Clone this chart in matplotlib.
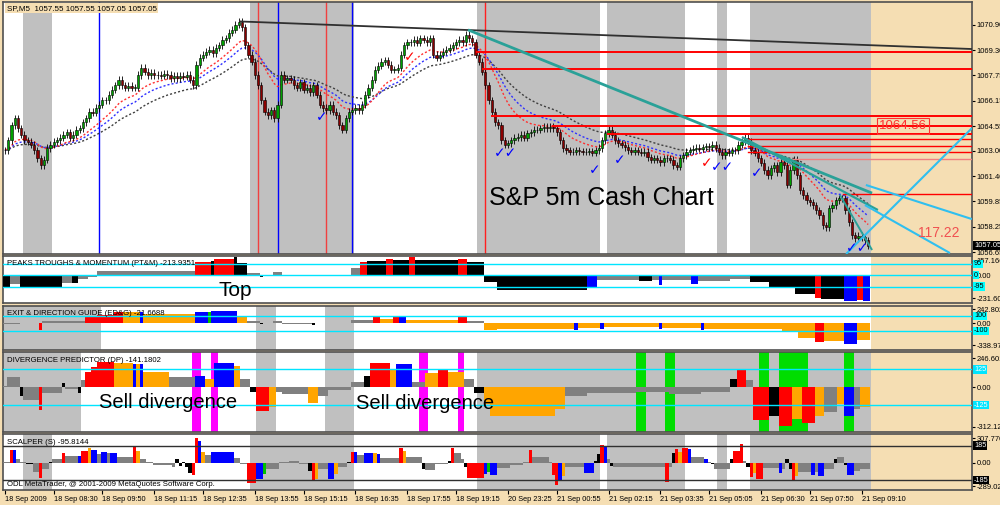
import numpy as np
import pandas as pd
import matplotlib
matplotlib.use('Agg')
import matplotlib.pyplot as plt
import matplotlib.transforms as mtransforms

plt.rcParams['font.family'] = ['Liberation Sans', 'DejaVu Sans']

# ---------------- data ----------------
closes = [
    1063.05, 1063.68, 1064.62, 1065.06, 1064.43,
    1064.00, 1063.68, 1063.56, 1063.37,
    1063.05, 1062.55, 1062.11,
    1062.43, 1063.18, 1063.37,
    1063.56, 1063.68, 1063.81,
    1064.00, 1064.18, 1063.81,
    1064.00, 1064.31, 1064.43,
    1064.81, 1065.06, 1065.44,
    1065.38, 1065.69, 1065.88, 1066.19,
    1066.19, 1066.51, 1066.82,
    1067.13, 1067.45, 1067.13,
    1066.95, 1067.07, 1066.95,
    1066.95, 1067.76, 1068.20,
    1067.95, 1067.76, 1067.89,
    1067.76, 1067.76, 1067.70,
    1067.83, 1067.76, 1067.57,
    1067.70, 1067.57, 1067.70,
    1067.64, 1067.76, 1067.45,
    1067.13, 1068.39, 1068.83, 1069.02,
    1069.21, 1069.33, 1069.14,
    1069.46, 1069.64, 1069.96,
    1070.08, 1070.40, 1070.59,
    1070.90, 1071.09, 1070.77,
    1069.64, 1069.02, 1068.58,
    1067.76, 1067.13, 1066.19,
    1065.44, 1065.25, 1065.56,
    1065.06, 1065.88, 1067.76, 1067.45,
    1067.57, 1067.45, 1067.13,
    1066.95, 1067.32, 1066.82,
    1066.95, 1066.69, 1067.13,
    1066.51, 1065.88, 1065.69,
    1065.56, 1065.88, 1065.44,
    1065.25, 1064.62, 1064.31,
    1065.06, 1065.44, 1065.56,
    1065.69, 1065.56, 1065.88,
    1066.51, 1066.95, 1067.45,
    1068.08, 1068.33, 1068.58,
    1068.70, 1068.39, 1068.08,
    1068.08, 1068.20, 1069.02, 1069.64,
    1069.83, 1069.83, 1069.96,
    1069.77, 1070.08, 1069.96,
    1069.83, 1070.08, 1069.02,
    1068.83, 1069.02, 1069.21,
    1069.33, 1069.46, 1069.64,
    1069.83, 1069.96, 1069.83,
    1070.27, 1070.08, 1069.83,
    1069.02, 1068.58, 1067.95,
    1067.13, 1066.19, 1065.44,
    1064.81, 1064.62, 1063.68, 1063.37,
    1063.49, 1063.68, 1063.81,
    1063.87, 1064.00, 1063.81,
    1064.12, 1064.18, 1064.31,
    1064.31, 1064.43, 1064.50,
    1064.43, 1064.50, 1064.43,
    1064.18, 1063.68, 1063.18,
    1063.05, 1062.93, 1062.93,
    1063.05, 1062.99, 1062.93,
    1062.93, 1062.99, 1062.87,
    1063.05, 1063.18, 1063.68, 1064.12,
    1064.31, 1064.00, 1063.68,
    1063.49, 1063.37, 1063.24,
    1063.05, 1062.93, 1063.05,
    1062.93, 1062.87, 1062.93,
    1062.61, 1062.43, 1062.55,
    1062.43, 1062.30, 1062.55,
    1062.55, 1062.43, 1062.11,
    1061.99, 1062.55, 1062.74,
    1062.93, 1063.05, 1063.12,
    1063.18, 1063.12, 1063.24,
    1063.30, 1063.24, 1063.37,
    1063.18, 1062.93, 1062.74,
    1062.93, 1062.87, 1063.05,
    1063.05, 1063.37, 1063.56,
    1063.81, 1063.56, 1063.05,
    1062.87, 1062.55, 1062.24,
    1061.80, 1061.48, 1061.92,
    1062.11, 1061.67, 1062.30,
    1062.11, 1060.86, 1061.80,
    1062.43, 1061.48, 1060.54,
    1060.23, 1059.91, 1059.79,
    1059.60, 1059.29, 1058.97,
    1058.34, 1058.22, 1059.41,
    1059.60, 1059.91, 1060.04,
    1060.04, 1059.29, 1058.53,
    1057.72, 1057.53, 1057.66,
    1057.59, 1057.40, 1057.05,
]

price_ticks = [1070.90, 1069.30, 1067.75, 1066.15, 1064.55, 1063.00,
               1061.40, 1059.85, 1058.25, 1056.65]

xtick_bars = [0, 15, 30, 46, 61, 77, 92, 108, 124, 139, 155, 170, 186, 202,
              217, 233, 248, 264]
xtick_labels = ['18 Sep 2009', '18 Sep 08:30', '18 Sep 09:50', '18 Sep 11:15',
                '18 Sep 12:35', '18 Sep 13:55', '18 Sep 15:15', '18 Sep 16:35',
                '18 Sep 17:55', '18 Sep 19:15', '20 Sep 23:25', '21 Sep 00:55',
                '21 Sep 02:15', '21 Sep 03:35', '21 Sep 05:05', '21 Sep 06:30',
                '21 Sep 07:50', '21 Sep 09:10']

# session shading (bar ranges)
main_bands = [(5.5, 14.5), (75.5, 107.5), (145.5, 183.5), (185.5, 209.5),
              (219.5, 222.5), (229.5, 266.9)]
edg_bands = [(-1, 29.5), (77.5, 83.5), (98.5, 107.5)]
dp_bands = [(-1, 23.5), (77.5, 83.5), (98.5, 107.5), (145.5, 266.9)]

# vertical markers on price chart (bar, colour)
vlines_bars = [29, 78, 84, 99, 107, 148]
vlines_cols = ['#0000FF', '#F04040', '#0000FF', '#F04040', '#0000FF', '#FF2020']

# horizontal resistance lines (start bar, price)
hlines_start = [145.5, 147.3, 150.1, 168.9, 185.8, 229.0, 229.0, 229.0, 241.9, 258.3]
hlines_price = [1069.21, 1068.14, 1065.19, 1064.56, 1064.06, 1063.74, 1063.30,
                1062.93, 1062.49, 1060.29]

# trend lines ((bar0, price0), (bar1, price1), colour, width)
trend_lines = [
    ((72.4, 1071.12), (298.0, 1069.39), '#303030', 1.3),
    ((142.7, 1070.59), (267.2, 1060.35), '#2AA198', 2.0),
    ((227.1, 1063.87), (269.0, 1059.29), '#2AA198', 1.6),
    ((257.3, 1060.23), (267.2, 1056.78), '#2AA198', 1.4),
    ((265.3, 1060.86), (298.0, 1058.72), '#30BFEF', 1.5),
    ((265.0, 1059.60), (291.2, 1056.59), '#30BFEF', 1.5),
    ((259.2, 1056.53), (298.0, 1064.43), '#30BFEF', 1.5),
]

# check marks (bar, price, colour, text)
check_bars = [97.7, 124.8, 154.1, 181.8, 189.5, 216.3, 221.2, 231.7, 262.6]
check_prices = [1065.12, 1068.89, 1062.87, 1061.80, 1062.43, 1062.24, 1061.99, 1061.61, 1056.90]
check_cols = ['#0000FF', '#FF0000', '#0000FF', '#0000FF', '#0000FF', '#FF0000',
              '#0000FF', '#0000FF', '#0000FF']
check_txt = ['✓', '✓', '✓✓', '✓', '✓', '✓', '✓✓', '✓', '✓✓']

# indicator histograms: (start bar, end bar, value, colour code)
ptm_runs = [
    (0, 2, -110, 'k'), (2, 5, -70, 'g'), (5, 18, -100, 'k'), (18, 21, -64, 'g'),
    (21, 23, -64, 'k'), (23, 26, -35, 'g'), (26, 29, -12, 'g'), (29, 59, 35, 'g'),
    (59, 64, 110, 'r'), (64, 65, 120, 'k'), (65, 71, 140, 'r'), (71, 72, 150, 'k'),
    (72, 75, 100, 'k'), (75, 79, 20, 'g'), (79, 80, -15, 'k'), (80, 83, -10, 'g'),
    (83, 86, 25, 'g'), (86, 107, -8, 'g'), (107, 110, 60, 'g'), (110, 112, 110, 'r'),
    (112, 118, 120, 'k'), (118, 120, 140, 'r'), (120, 125, 130, 'k'), (125, 127, 150, 'r'),
    (127, 140, 130, 'k'), (140, 143, 140, 'r'), (143, 148, 110, 'k'), (148, 152, -60, 'k'),
    (152, 180, -120, 'k'), (180, 183, -110, 'b'), (183, 196, -40, 'g'), (196, 200, -50, 'k'),
    (200, 202, -40, 'g'), (202, 203, -80, 'b'), (203, 212, -40, 'g'), (212, 214, -70, 'b'),
    (214, 224, -45, 'g'), (224, 230, -30, 'g'), (230, 236, -60, 'k'), (236, 244, -110, 'k'),
    (244, 250, -160, 'k'), (250, 252, -190, 'r'), (252, 259, -200, 'k'), (259, 263, -215, 'b'),
    (263, 265, -210, 'r'), (265, 267, -214, 'b'),
]
edg_runs = [
    (0, 5, -5, 'g'), (5, 11, 8, 'g'), (11, 12, -95, 'r'), (12, 25, 25, 'g'),
    (25, 29, 80, 'r'), (29, 34, 115, 'r'), (34, 37, 150, 'r'), (37, 42, 150, 'o'),
    (42, 43, 150, 'b'), (43, 59, 120, 'o'), (59, 63, 150, 'b'), (63, 64, 150, 'G'),
    (64, 72, 170, 'b'), (72, 75, 100, 'o'), (75, 79, 30, 'g'), (79, 80, -10, 'k'),
    (80, 83, 0, 'g'), (83, 86, 25, 'g'), (86, 95, -12, 'g'), (95, 96, -20, 'k'),
    (96, 107, 10, 'g'), (107, 114, 40, 'g'), (114, 116, 80, 'r'), (116, 120, 60, 'o'),
    (120, 122, 90, 'r'), (122, 124, 90, 'b'), (124, 140, 50, 'o'), (140, 143, 80, 'r'),
    (143, 148, 30, 'g'), (148, 152, -90, 'o'), (152, 176, -70, 'o'), (176, 177, -90, 'b'),
    (177, 184, -60, 'o'), (184, 185, -80, 'b'), (185, 202, -55, 'o'), (202, 203, -80, 'b'),
    (203, 215, -60, 'o'), (215, 216, -90, 'b'), (216, 240, -70, 'o'), (240, 245, -120, 'o'),
    (245, 250, -200, 'o'), (250, 253, -250, 'r'), (253, 259, -230, 'o'), (259, 263, -270, 'b'),
    (263, 267, -220, 'o'),
]
dp_runs = [
    (0, 1, 10, 'g'), (1, 5, 70, 'g'), (5, 6, -60, 'k'), (6, 11, -90, 'g'),
    (11, 12, -155, 'r'), (12, 18, -40, 'g'), (18, 19, 30, 'k'), (19, 23, -15, 'g'),
    (23, 24, -40, 'k'), (24, 25, 50, 'g'), (25, 27, 110, 'r'), (27, 29, 145, 'r'),
    (29, 34, 180, 'r'), (34, 40, 170, 'o'), (40, 41, 160, 'b'), (41, 42, 160, 'o'),
    (42, 43, 160, 'b'), (43, 51, 110, 'o'), (51, 59, 75, 'g'), (59, 62, 80, 'b'),
    (62, 65, 60, 'o'), (65, 71, 170, 'b'), (71, 73, 150, 'o'), (73, 76, 60, 'g'),
    (76, 78, -30, 'k'), (78, 82, -165, 'r'), (82, 84, -140, 'o'), (84, 86, -30, 'g'),
    (86, 94, -50, 'g'), (94, 97, -110, 'o'), (97, 100, -60, 'g'), (100, 107, -20, 'g'),
    (107, 111, 40, 'g'), (111, 113, 80, 'k'), (113, 119, 170, 'r'), (119, 121, 120, 'o'),
    (121, 126, 160, 'b'), (126, 130, 40, 'g'), (130, 134, 100, 'o'), (134, 137, 130, 'r'),
    (137, 142, 110, 'o'), (142, 145, 60, 'g'), (145, 148, -40, 'k'), (148, 150, -120, 'o'),
    (150, 170, -200, 'o'), (170, 173, -150, 'o'), (173, 180, -60, 'g'), (180, 195, -40, 'g'),
    (195, 205, -30, 'g'), (205, 215, -50, 'g'), (215, 224, -30, 'g'), (224, 226, 60, 'k'),
    (226, 229, 130, 'r'), (229, 231, 50, 'g'), (231, 236, -230, 'r'), (236, 239, -200, 'k'),
    (239, 243, -270, 'r'), (243, 246, -220, 'o'), (246, 250, -250, 'r'), (250, 253, -200, 'o'),
    (253, 257, -170, 'g'), (257, 259, -120, 'o'), (259, 262, -200, 'b'), (262, 264, -150, 'g'),
    (264, 267, -140, 'o'),
]
dp_magenta = [(58, 60), (64, 65), (128, 130), (140, 141)]
dp_green = [(195, 197), (204, 206), (233, 235), (239, 247), (259, 261)]

scalper_runs = [
    (0, 2, 10, 'g'), (2, 3, 135, 'r'), (3, 4, 135, 'b'), (4, 5, 40, 'g'), (5, 7, 5, 'g'),
    (7, 9, -10, 'k'), (9, 11, -100, 'g'), (11, 12, -165, 'r'), (12, 14, -60, 'g'),
    (14, 15, 10, 'k'), (15, 18, 40, 'g'), (18, 19, 110, 'r'), (19, 23, 70, 'g'),
    (23, 24, 70, 'b'), (24, 26, 130, 'r'), (26, 27, 160, 'o'), (27, 29, 140, 'b'),
    (29, 30, 90, 'g'), (30, 32, 120, 'b'), (32, 33, 100, 'g'), (33, 35, 110, 'b'),
    (35, 40, 60, 'g'), (40, 41, 170, 'r'), (41, 42, 130, 'o'), (42, 44, 40, 'g'),
    (44, 46, 10, 'g'), (46, 52, -25, 'g'), (52, 53, -40, 'g'), (53, 54, 40, 'k'),
    (54, 55, -30, 'k'), (55, 56, 10, 'k'), (56, 57, -40, 'k'), (57, 58, -110, 'k'),
    (58, 59, -130, 'r'), (59, 60, 270, 'r'), (60, 61, 230, 'b'), (61, 62, 120, 'o'),
    (62, 64, 80, 'g'), (64, 71, 115, 'b'), (71, 73, 50, 'g'), (73, 75, -10, 'g'),
    (75, 78, -210, 'r'), (78, 80, -170, 'b'), (80, 81, -120, 'G'), (81, 85, -60, 'g'),
    (85, 88, 10, 'g'), (88, 91, 20, 'g'), (91, 94, -15, 'g'), (94, 95, -90, 'k'),
    (95, 96, -195, 'r'), (96, 97, -170, 'o'), (97, 100, -60, 'g'), (100, 102, -170, 'b'),
    (102, 103, -120, 'o'), (103, 106, -40, 'g'), (106, 107, 10, 'k'), (107, 108, 120, 'r'),
    (108, 109, 120, 'b'), (109, 111, 80, 'g'), (111, 114, 110, 'b'), (114, 115, 100, 'o'),
    (115, 116, 90, 'b'), (116, 122, 55, 'g'), (122, 123, 160, 'r'), (123, 124, 130, 'o'),
    (124, 129, 65, 'g'), (129, 130, -70, 'k'), (130, 133, -80, 'g'), (133, 137, -10, 'g'),
    (137, 138, 20, 'k'), (138, 139, 160, 'r'), (139, 141, 100, 'g'), (141, 142, 40, 'g'),
    (142, 143, -40, 'k'), (143, 148, -160, 'r'), (148, 149, -120, 'b'), (149, 150, -100, 'G'),
    (150, 152, -130, 'b'), (152, 156, -50, 'g'), (156, 160, -20, 'g'), (160, 162, 10, 'g'),
    (162, 163, 140, 'r'), (163, 168, 65, 'g'), (168, 169, 10, 'g'), (169, 170, -130, 'r'),
    (170, 171, -240, 'r'), (171, 172, -180, 'b'), (172, 173, -140, 'o'), (173, 179, -40, 'g'),
    (179, 182, -110, 'b'), (182, 183, 20, 'k'), (183, 184, 90, 'k'), (184, 185, 190, 'r'),
    (185, 186, 170, 'b'), (186, 187, 40, 'g'), (187, 188, -30, 'k'), (188, 204, -45, 'g'),
    (204, 205, -200, 'r'), (205, 206, -40, 'g'), (206, 207, 100, 'k'), (207, 208, 145, 'r'),
    (208, 209, 120, 'o'), (209, 211, 160, 'r'), (211, 212, 150, 'b'), (212, 216, 60, 'g'),
    (216, 217, 40, 'b'), (217, 218, 5, 'g'), (218, 219, -10, 'k'), (219, 224, -60, 'g'),
    (224, 225, 40, 'k'), (225, 227, 130, 'r'), (227, 228, 200, 'r'), (228, 229, 20, 'g'),
    (229, 230, -40, 'k'), (230, 231, -150, 'r'), (231, 232, -110, 'o'), (232, 234, -170, 'r'),
    (234, 239, -55, 'g'), (239, 240, -110, 'b'), (240, 241, -60, 'g'), (241, 242, 40, 'k'),
    (242, 243, -60, 'k'), (243, 244, -180, 'r'), (244, 245, -140, 'o'), (245, 249, -100, 'g'),
    (249, 250, -130, 'b'), (250, 251, -100, 'g'), (251, 253, -140, 'b'), (253, 256, -60, 'g'),
    (256, 257, 40, 'k'), (257, 259, 60, 'g'), (259, 260, -20, 'k'), (260, 262, -125, 'b'),
    (262, 264, -90, 'g'), (264, 267, -70, 'g'),
]

# ---------------- styling ----------------
CMAP = {'k': '#000000', 'g': '#808080', 'r': '#FF0000', 'b': '#0000FF',
        'o': '#FFA500', 'G': '#00C000'}
BEIGE = '#F5DEB3'
BAND = '#C0C0C0'
SPINE = '#505050'
W, H = 1000, 505
XL = (-0.62, 298.0)
YLAB = 5.4

n = len(closes)
idx = np.arange(n)
c = np.array(closes)
o = np.r_[c[0], c[:-1]]
hi = np.maximum(o, c) + 0.22
lo = np.minimum(o, c) - 0.22

fig = plt.figure(figsize=(W / 100, H / 100), dpi=100, facecolor=BEIGE)


def add_ax(top, bottom):
    ax = fig.add_axes([3 / W, 1 - bottom / H, 969 / W, (bottom - top) / H])
    ax.set_facecolor(BEIGE)
    ax.set_xlim(*XL)
    for s in ax.spines.values():
        s.set_color(SPINE)
        s.set_linewidth(1.2)
    ax.axvspan(XL[0], 266.9, color='white', zorder=0, lw=0)
    ax.tick_params(axis='x', bottom=False, labelbottom=False)
    ax.yaxis.tick_right()
    ax.tick_params(axis='y', length=2.5, width=0.8, labelsize=YLAB, pad=0.8, colors='black')
    return ax


def bands(ax, bl):
    for a, b in bl:
        ax.axvspan(a, b, color=BAND, zorder=0.5, lw=0)


def expand(runs):
    vals = np.full(n, np.nan)
    cols = ['#808080'] * n
    for s, e, v, cc in runs:
        for i in range(s, min(e, n)):
            vals[i] = v
            cols[i] = CMAP[cc]
    return vals, cols


# ---------------- main price panel ----------------
ax = add_ax(2, 254)
ax.set_ylim(1056.53, 1072.34)
bands(ax, main_bands)

ser = pd.Series(c)
for span, col in [(34, '#404040'), (21, '#3030FF'), (14, '#FF3030')]:
    ax.plot(idx, ser.ewm(span=span, adjust=False).mean(), color=col, lw=1.0,
            ls=(0, (1.5, 1.5)), zorder=3)

for b, col in zip(vlines_bars, vlines_cols):
    ax.axvline(b, color=col, lw=1.0, zorder=2)

up = c >= o
ax.vlines(idx, lo, hi, color='black', lw=0.6, zorder=4)
ax.bar(idx, np.maximum(np.abs(c - o), 0.03), bottom=np.minimum(o, c), width=0.7,
       color=np.where(up, '#00A000', '#8B0000'), edgecolor='black', linewidth=0.4, zorder=5)

for i, (sb, pr) in enumerate(zip(hlines_start, hlines_price)):
    lw = 1.4 if i < 5 else 1.0
    col = '#F08080' if i == 8 else '#FF0000'
    ax.plot([sb, XL[1]], [pr, pr], color=col, lw=lw, zorder=6)

for (x0, y0), (x1, y1), col, lw in trend_lines:
    ax.plot([x0, x1], [y0, y1], color=col, lw=lw, zorder=6, solid_capstyle='butt')

for b, p, col, t in zip(check_bars, check_prices, check_cols, check_txt):
    ax.text(b, p, t, color=col, fontsize=10, ha='center', va='center',
            family=['DejaVu Sans'], fontweight='bold', zorder=7)

ax.text(149.2, 1059.60, 'S&P 5m Cash Chart', fontsize=18, color='black',
        ha='left', va='baseline', zorder=8)
ax.text(276.7, 1064.56, '1064.56', fontsize=9.5, color='#FF3030', ha='center', va='center',
        bbox=dict(boxstyle='square,pad=0.15', fc='none', ec='#FF3030', lw=0.8), zorder=8)
ax.text(287.8, 1057.84, '117.22', fontsize=10, color='#F05050', ha='center', va='center',
        zorder=8)
ax.text(0.004, 0.976, 'SP,M5  1057.55 1057.55 1057.05 1057.05', transform=ax.transAxes,
        fontsize=5.8, ha='left', va='center',
        bbox=dict(boxstyle='square,pad=0.2', fc=BEIGE, ec='none'), zorder=9)

ax.set_yticks(price_ticks)
ax.set_yticklabels(['%.2f' % v for v in price_ticks])
trb = mtransforms.blended_transform_factory(ax.transAxes, ax.transData)
ax.text(1.002, c[-1], '%.2f' % c[-1], transform=trb, fontsize=YLAB, color='white',
        ha='left', va='center', clip_on=False,
        bbox=dict(boxstyle='square,pad=0.1', fc='black', ec='none'), zorder=10)


def panel(top, bottom, ylim, runs, title, title_y, lbls, level_vals, level_col,
          box_fc, box_tc, band_list=None):
    a = add_ax(top, bottom)
    a.set_ylim(*ylim)
    if band_list:
        bands(a, band_list)
    vals, cols = expand(runs)
    a.bar(idx, vals, width=1.0, color=cols, linewidth=0, zorder=3)
    for lv in level_vals:
        a.axhline(lv, color=level_col, lw=1.0, zorder=4)
    a.text(0.004, title_y, title, transform=a.transAxes, fontsize=5.6,
           ha='left', va='center', zorder=6)
    a.set_yticks([p for p, _ in lbls])
    a.set_yticklabels([t for _, t in lbls])
    tr = mtransforms.blended_transform_factory(a.transAxes, a.transData)
    for lv in level_vals:
        a.text(1.002, lv, '%g' % lv, transform=tr, fontsize=5.2, color=box_tc,
               ha='left', va='center', clip_on=False,
               bbox=dict(boxstyle='square,pad=0.1', fc=box_fc, ec='none'), zorder=10)
    return a


ptm = panel(256, 303, (-233, 162), ptm_runs, 'PEAKS TROUGHS & MOMENTUM (PT&M) -213.9351', 0.83,
            [(120, '157.166'), (0, '0.00'), (-191, '-231.606')], [95, 0, -95], '#00E5FF',
            '#00FFFF', 'black')
ptm.text(65.9, -174, 'Top', fontsize=15, ha='left', va='baseline', zorder=7)

edg = panel(306, 350, (-355, 230), edg_runs, 'EXIT & DIRECTION GUIDE (ED&G) -21.6688', 0.84,
            [(185, '242.8025'), (0, '0.00'), (-289, '-338.978')], [100, -100], '#00E5FF',
            '#00FFFF', 'black', edg_bands)

dp = add_ax(352, 432)
dp.set_ylim(-312.1, 246.6)
bands(dp, dp_bands)
for a_, b_ in dp_magenta:
    dp.axvspan(a_ - 0.5, b_ + 0.5, color='#FF00FF', zorder=1, lw=0)
for a_, b_ in dp_green:
    dp.axvspan(a_ - 0.5, b_ + 0.5, color='#00DD00', zorder=1, lw=0)
vals, cols = expand(dp_runs)
dp.bar(idx, vals, width=1.0, color=cols, linewidth=0, zorder=3)
for lv in [125, -125]:
    dp.axhline(lv, color='#00E5FF', lw=1.0, zorder=4)
dp.text(0.004, 0.9, 'DIVERGENCE PREDICTOR (DP) -141.1802', transform=dp.transAxes,
        fontsize=5.6, ha='left', va='center', zorder=6)
dp.set_yticks([203, 0, -276])
dp.set_yticklabels(['246.601', '0.00', '-312.126'])
trd = mtransforms.blended_transform_factory(dp.transAxes, dp.transData)
for lv in [125, -125]:
    dp.text(1.002, lv, '%g' % lv, transform=trd, fontsize=5.2, color='white',
            ha='left', va='center', clip_on=False,
            bbox=dict(boxstyle='square,pad=0.1', fc='#00E5FF', ec='none'), zorder=10)
dp.text(29.0, -144, 'Sell divergence', fontsize=14.5, ha='left', va='baseline', zorder=7)
dp.text(108.2, -150, 'Sell divergence', fontsize=14.5, ha='left', va='baseline', zorder=7)

sc = panel(434, 490, (-289, 307.8), scalper_runs, 'SCALPER (S) -95.8144', 0.857,
           [(265, '307.770'), (0, '0.00'), (-250, '-289.022')], [185, -185], '#303030',
           'black', 'white', main_bands)
sc.text(0.004, 0.09, 'ODL MetaTrader, @ 2001-2009 MetaQuotes Software Corp.',
        transform=sc.transAxes, fontsize=5.6, ha='left', va='center', zorder=6)
sc.tick_params(axis='x', bottom=True, labelbottom=True, length=3, width=0.8,
               labelsize=5.3, pad=1.5)
sc.set_xticks(xtick_bars)
sc.set_xticklabels(xtick_labels, ha='left')

fig.savefig('out.png', dpi=100, facecolor=BEIGE)
